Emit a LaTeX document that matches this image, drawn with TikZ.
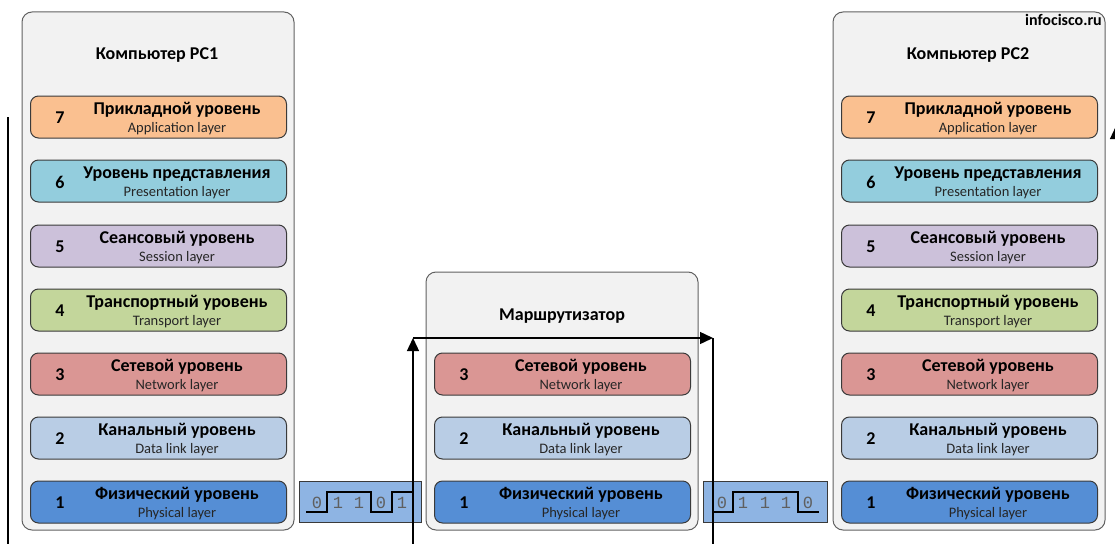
\documentclass[tikz,border=0pt]{standalone}
\usepackage{fontspec}
\setmainfont{Carlito}
\setmonofont{Liberation Mono}
\usetikzlibrary{arrows.meta}
\definecolor{cseven}{HTML}{FAC090}
\definecolor{csix}{HTML}{93CDDD}
\definecolor{cfive}{HTML}{CCC1DA}
\definecolor{cfour}{HTML}{C3D69B}
\definecolor{cthree}{HTML}{DA9694}
\definecolor{ctwo}{HTML}{B9CDE5}
\definecolor{cone}{HTML}{558ED5}
\definecolor{cbits}{HTML}{8EB4E3}
\definecolor{cpanel}{HTML}{F2F2F2}
\definecolor{cedge}{HTML}{3A3A3A}
\definecolor{cdigit}{HTML}{5F5F5F}
\tikzset{
  outerbox/.style={draw=cedge!80, fill=cpanel, line width=1pt, rounded corners=10pt, inner sep=0pt},
  layerbox/.style={draw=cedge, line width=1pt, rounded corners=8pt, minimum width=256pt, minimum height=42pt, inner sep=0pt},
  bitbox/.style={draw=cedge, fill=cbits, line width=1pt, inner sep=0pt, minimum height=41pt},
  numtext/.style={font=\fontsize{18}{20}\selectfont\bfseries, inner sep=0pt},
  maintext/.style={font=\fontsize{18}{20}\selectfont\bfseries, inner sep=0pt},
  subtext/.style={font=\fontsize{14.5}{16}\selectfont, text=black!85, inner sep=0pt},
  titletext/.style={font=\fontsize{18}{20}\selectfont\bfseries, inner sep=0pt},
  digit/.style={font=\ttfamily\fontsize{17}{18}\selectfont, text=cdigit, inner sep=0pt},
  wave/.style={line width=1.2pt, black},
  flow/.style={line width=1.4pt, black},
  flowtip/.style={flow, -{Triangle[length=13pt,width=12pt]}},
}
\newcommand\osilayer[7]{%
  \node[layerbox, fill=#4, anchor=west] (#1) at (#2,#3) {};
  \node[numtext] (#1n) at ({#2+30},{#3+1}) {#5};
  \node[maintext] (#1m) at ({#2+147},{#3-7}) {#6};
  \node[subtext] (#1s) at ({#2+147},{#3+12}) {#7};
}
\newcommand\stackseven[2]{% prefix, left x
  \osilayer{#1a}{#2}{117}{cseven}{7}{Прикладной уровень}{Application layer}
  \osilayer{#1b}{#2}{181}{csix}{6}{Уровень представления}{Presentation layer}
  \osilayer{#1c}{#2}{246}{cfive}{5}{Сеансовый уровень}{Session layer}
  \osilayer{#1d}{#2}{310}{cfour}{4}{Транспортный уровень}{Transport layer}
  \osilayer{#1e}{#2}{374}{cthree}{3}{Сетевой уровень}{Network layer}
  \osilayer{#1f}{#2}{438}{ctwo}{2}{Канальный уровень}{Data link layer}
  \osilayer{#1g}{#2}{502}{cone}{1}{Физический уровень}{Physical layer}
}
\begin{document}
\begin{tikzpicture}[x=1pt,y=-1pt]
\useasboundingbox (0,0) rectangle (1115,543);
\clip (0,0) rectangle (1115,543);
% outer panels
\node[outerbox, minimum width=272pt, minimum height=518pt] (pc1) at (158,271) {};
\node[outerbox, minimum width=272pt, minimum height=258pt] (rt) at (562,401) {};
\node[outerbox, minimum width=272pt, minimum height=518pt] (pc2) at (969,271) {};
\node[titletext] (pc1t) at (157,55) {Компьютер PC1};
\node[titletext] (rtt) at (562,316) {Маршрутизатор};
\node[titletext] (pc2t) at (968,55) {Компьютер PC2};
\node[font=\fontsize{16}{17}\selectfont\bfseries, inner sep=0pt, anchor=east] (logo) at (1102,20) {infocisco.ru};
% layers
\stackseven{p}{30}
\stackseven{q}{841}
\osilayer{re}{434}{374}{cthree}{3}{Сетевой уровень}{Network layer}
\osilayer{rf}{434}{438}{ctwo}{2}{Канальный уровень}{Data link layer}
\osilayer{rg}{434}{502}{cone}{1}{Физический уровень}{Physical layer}
% bit boxes
\node[bitbox, minimum width=122pt] (bitsa) at (360,501.5) {};
\node[bitbox, minimum width=124pt] (bitsb) at (765.5,501.5) {};
\draw[wave] (306,512) -- (327,512) -- (327,492) -- (371,492) -- (371,512) -- (392,512) -- (392,492) -- (413,492);
\draw[wave] (712,512) -- (733,512) -- (733,492) -- (798,492) -- (798,512) -- (819,512);
\foreach \x/\d in {317/0,338/1,359/1,381/0,402/1} \node[digit] at (\x,503) {\d};
\foreach \x/\d in {722/0,743/1,765/1,786/1,808/0} \node[digit] at (\x,503) {\d};
% flow connectors
\coordinate (la) at (8,117);
\coordinate (lb) at (8,546);
\coordinate (ra) at (413,546);
\coordinate (rb) at (413,338);
\coordinate (rc) at (713,338);
\coordinate (rd) at (713,546);
\coordinate (sa) at (1116,546);
\coordinate (sb) at (1116,126);
\draw[flow] (la) -- (lb);
\draw[flowtip] (ra) -- (rb);
\draw[flowtip] (rb) -- (rc);
\draw[flow] (rc) -- (rd);
\draw[flowtip] (sa) -- (sb);
\end{tikzpicture}
\end{document}
